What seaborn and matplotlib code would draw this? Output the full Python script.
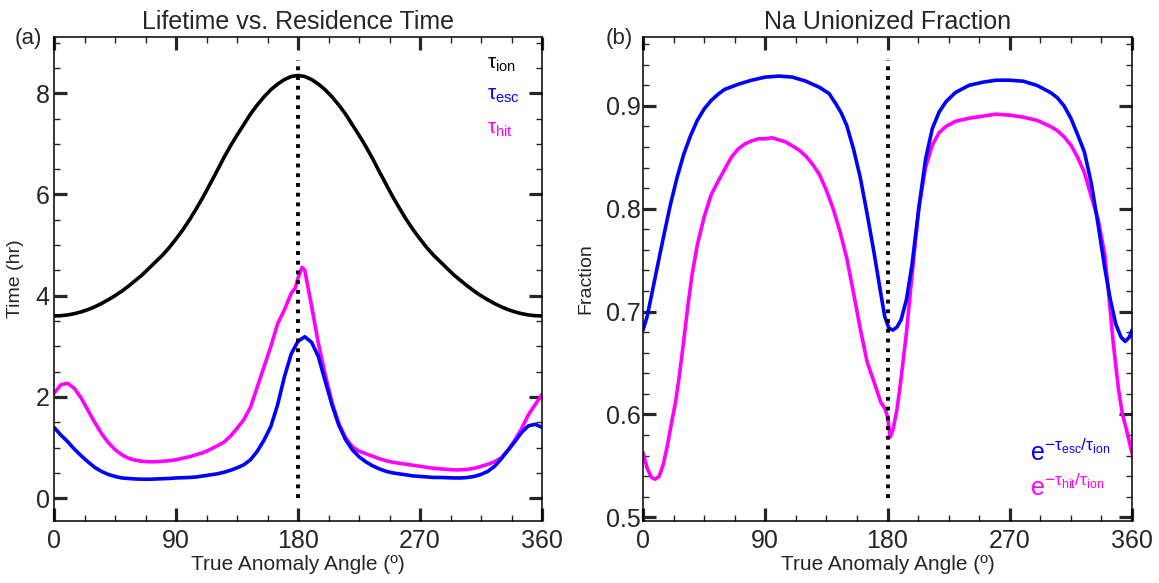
import numpy as np
import pandas as pd
import matplotlib
matplotlib.use("Agg")
import matplotlib.pyplot as plt
import seaborn as sns
from matplotlib.ticker import MultipleLocator, FormatStrFormatter

# ---- data ----
# (a) lifetime vs residence time (hr)
ion_angle = list(range(0, 365, 5))
tau_ion = [3.60, 3.605, 3.62, 3.645, 3.68, 3.725, 3.78, 3.845, 3.92, 4.00, 4.09, 4.19, 4.30,
           4.41, 4.54, 4.67, 4.80, 4.95, 5.12, 5.30, 5.50, 5.72, 5.95, 6.20, 6.45, 6.71, 6.95,
           7.17, 7.38, 7.59, 7.77, 7.93, 8.07, 8.18, 8.27, 8.33, 8.35,
           8.33, 8.27, 8.18, 8.07, 7.93, 7.77, 7.59, 7.38, 7.17, 6.95, 6.71, 6.45, 6.20, 5.95,
           5.72, 5.50, 5.30, 5.12, 4.95, 4.80, 4.67, 4.54, 4.41, 4.30, 4.19, 4.09, 4.00, 3.92,
           3.845, 3.78, 3.725, 3.68, 3.645, 3.62, 3.605, 3.60]

esc_angle = [0, 5, 10, 15, 20, 25, 30, 35, 40, 45, 50, 55, 60, 65, 70, 75, 80, 85, 90, 95, 100,
             105, 110, 115, 120, 125, 130, 135, 140, 145, 150, 155, 160, 165, 170, 175, 180, 185,
             190, 195, 200, 205, 210, 215, 220, 225, 230, 235, 240, 245, 250, 255, 260, 265, 270,
             275, 280, 285, 290, 295, 300, 305, 310, 315, 320, 325, 330, 335, 340, 345, 350, 355, 360]
tau_esc = [1.40, 1.25, 1.12, 0.97, 0.84, 0.72, 0.61, 0.53, 0.47, 0.43, 0.40, 0.39, 0.38, 0.375,
           0.375, 0.38, 0.385, 0.39, 0.40, 0.405, 0.41, 0.42, 0.44, 0.46, 0.48, 0.51, 0.55, 0.60,
           0.66, 0.76, 0.93, 1.15, 1.42, 1.85, 2.40, 2.85, 3.10, 3.19, 3.08, 2.80, 2.32, 1.85,
           1.45, 1.16, 0.96, 0.82, 0.72, 0.64, 0.58, 0.53, 0.50, 0.48, 0.46, 0.44, 0.43, 0.42,
           0.41, 0.41, 0.405, 0.40, 0.40, 0.41, 0.43, 0.47, 0.53, 0.63, 0.78, 0.95, 1.12, 1.30,
           1.43, 1.46, 1.40]

hit_angle = [0, 5, 10, 15, 20, 25, 30, 35, 40, 45, 50, 55, 60, 65, 70, 75, 80, 85, 90, 95, 100,
             105, 110, 115, 120, 125, 130, 135, 140, 145, 150, 155, 160, 165, 170, 175, 178, 180,
             183, 185, 190, 195, 200, 205, 210, 215, 220, 225, 230, 235, 240, 245, 250, 255, 260,
             265, 270, 275, 280, 285, 290, 295, 300, 305, 310, 315, 320, 325, 330, 335, 340, 345,
             350, 355, 360]
tau_hit = [2.07, 2.24, 2.27, 2.17, 1.98, 1.74, 1.50, 1.28, 1.10, 0.96, 0.86, 0.79, 0.75, 0.73,
           0.72, 0.72, 0.73, 0.74, 0.76, 0.79, 0.82, 0.86, 0.90, 0.96, 1.03, 1.10, 1.22, 1.38,
           1.55, 1.80, 2.20, 2.60, 3.00, 3.45, 3.72, 4.05, 4.15, 4.35, 4.56, 4.50, 3.80, 3.06,
           2.45, 1.90, 1.48, 1.20, 1.02, 0.93, 0.88, 0.83, 0.78, 0.74, 0.71, 0.69, 0.67, 0.65,
           0.63, 0.61, 0.59, 0.58, 0.57, 0.56, 0.56, 0.57, 0.59, 0.63, 0.67, 0.72, 0.80, 0.95,
           1.15, 1.38, 1.65, 1.85, 2.05]

# (b) unionized fraction
fesc_angle = [0, 3, 6, 10, 15, 20, 25, 30, 35, 40, 45, 50, 55, 60, 70, 80, 90, 100, 110, 120,
              130, 137, 142, 146, 150, 155, 160, 165, 170, 175, 178, 181, 184, 187, 190, 194,
              198, 203, 208, 213, 218, 223, 230, 240, 250, 260, 270, 280, 290, 300, 305, 310,
              315, 320, 325, 330, 335, 340, 344, 348, 352, 355, 358, 360]
frac_esc = [0.682, 0.695, 0.714, 0.740, 0.772, 0.803, 0.830, 0.853, 0.871, 0.886, 0.897, 0.905,
            0.911, 0.916, 0.921, 0.925, 0.928, 0.929, 0.928, 0.924, 0.918, 0.912, 0.902, 0.893,
            0.881, 0.858, 0.830, 0.795, 0.758, 0.718, 0.695, 0.684, 0.682, 0.685, 0.692, 0.712,
            0.745, 0.800, 0.848, 0.878, 0.894, 0.904, 0.913, 0.920, 0.923, 0.925, 0.925, 0.924,
            0.920, 0.913, 0.908, 0.900, 0.888, 0.872, 0.855, 0.825, 0.785, 0.742, 0.712, 0.688,
            0.675, 0.671, 0.675, 0.682]

fhit_angle = [0, 3, 6, 9, 12, 15, 18, 21, 24, 27, 30, 33, 36, 40, 45, 50, 55, 60, 65, 70, 75,
              80, 85, 90, 95, 100, 105, 110, 115, 120, 125, 130, 135, 140, 145, 150, 155, 160,
              165, 170, 175, 178, 180, 182, 184, 187, 190, 194, 198, 203, 208, 213, 218, 223,
              230, 240, 250, 260, 270, 280, 290, 300, 305, 310, 315, 320, 325, 330, 335, 340,
              343, 346, 350, 353, 356, 360]
frac_hit = [0.563, 0.548, 0.539, 0.537, 0.540, 0.552, 0.570, 0.592, 0.612, 0.640, 0.672, 0.705,
            0.735, 0.765, 0.792, 0.813, 0.826, 0.838, 0.850, 0.858, 0.863, 0.866, 0.868, 0.868,
            0.869, 0.867, 0.865, 0.861, 0.857, 0.851, 0.843, 0.833, 0.818, 0.800, 0.778, 0.752,
            0.718, 0.683, 0.651, 0.632, 0.612, 0.606, 0.598, 0.578, 0.585, 0.605, 0.635, 0.680,
            0.735, 0.800, 0.840, 0.862, 0.874, 0.880, 0.885, 0.888, 0.890, 0.892, 0.891, 0.889,
            0.886, 0.880, 0.876, 0.870, 0.862, 0.850, 0.835, 0.812, 0.790, 0.755, 0.715, 0.672,
            0.625, 0.600, 0.585, 0.562]

# ---- style ----
sns.set_style("ticks")
plt.rcParams["font.family"] = ["Liberation Sans", "DejaVu Sans"]
plt.rcParams["mathtext.fontset"] = "custom"
plt.rcParams["mathtext.rm"] = "Liberation Sans"
plt.rcParams["mathtext.it"] = "Liberation Sans"
plt.rcParams["axes.linewidth"] = 1.1

BLUE = "#0000ff"
MAGENTA = "#ff00ff"
LW = 2.6

fig = plt.figure(figsize=(11.59, 5.83), dpi=100)
ax1 = fig.add_axes([54 / 1159, 62 / 583, 488 / 1159, 484 / 583])
ax2 = fig.add_axes([643 / 1159, 62 / 583, 489 / 1159, 484 / 583])


def style_axis(ax):
    ax.set_xlim(0, 360)
    ax.xaxis.set_major_locator(MultipleLocator(90))
    ax.xaxis.set_minor_locator(MultipleLocator(22.5))
    ax.tick_params(which="both", direction="in", top=True, right=True)
    ax.tick_params(which="major", length=9.5, width=2.3, labelsize=18)
    ax.tick_params(which="minor", length=4.5, width=1.0)
    ax.tick_params(axis="x", which="major", pad=6)
    ax.tick_params(axis="y", which="major", pad=3)
    for s in ax.spines.values():
        s.set_color("black")
    ax.set_xlabel("True Anomaly Angle (º)", fontsize=15)
    ax.xaxis.set_label_coords(0.5, -0.07)
    ax.axvline(180, ymin=0.047, ymax=0.952, color="black", lw=2.8,
               linestyle=(0, (1.0, 1.5)))


# panel (a)
df_ion = pd.DataFrame({"angle": ion_angle, "tau": tau_ion})
df_esc = pd.DataFrame({"angle": esc_angle, "tau": tau_esc})
df_hit = pd.DataFrame({"angle": hit_angle, "tau": tau_hit})
sns.lineplot(data=df_ion, x="angle", y="tau", ax=ax1, color="black", lw=LW)
sns.lineplot(data=df_hit, x="angle", y="tau", ax=ax1, color=MAGENTA, lw=LW)
sns.lineplot(data=df_esc, x="angle", y="tau", ax=ax1, color=BLUE, lw=LW)
style_axis(ax1)
ax1.set_ylim(-0.45, 9.11)
ax1.yaxis.set_major_locator(MultipleLocator(2))
ax1.yaxis.set_minor_locator(MultipleLocator(0.5))
ax1.set_ylabel("Time (hr)", fontsize=14)
ax1.yaxis.set_label_coords(-0.062, 0.5)
ax1.set_title("Lifetime vs. Residence Time", fontsize=18, pad=6)
ax1.text(-0.08, 0.985, "(a)", transform=ax1.transAxes, fontsize=16, ha="left", va="baseline")
ax1.text(0.887, 0.935, r"τ$_{\mathrm{ion}}$", transform=ax1.transAxes, fontsize=15,
         color="black", va="baseline")
ax1.text(0.887, 0.870, r"τ$_{\mathrm{esc}}$", transform=ax1.transAxes, fontsize=15,
         color=BLUE, va="baseline")
ax1.text(0.887, 0.801, r"τ$_{\mathrm{hit}}$", transform=ax1.transAxes, fontsize=15,
         color=MAGENTA, va="baseline")

# panel (b)
df_fesc = pd.DataFrame({"angle": fesc_angle, "frac": frac_esc})
df_fhit = pd.DataFrame({"angle": fhit_angle, "frac": frac_hit})
sns.lineplot(data=df_fhit, x="angle", y="frac", ax=ax2, color=MAGENTA, lw=LW)
sns.lineplot(data=df_fesc, x="angle", y="frac", ax=ax2, color=BLUE, lw=LW)
style_axis(ax2)
ax2.set_ylim(0.4964, 0.967)
ax2.yaxis.set_major_locator(MultipleLocator(0.1))
ax2.yaxis.set_minor_locator(MultipleLocator(0.02))
ax2.yaxis.set_major_formatter(FormatStrFormatter("%.1f"))
ax2.tick_params(axis="y", which="major", pad=1.5)
ax2.set_ylabel("Fraction", fontsize=14)
ax2.yaxis.set_label_coords(-0.100, 0.5)
ax2.set_title("Na Unionized Fraction", fontsize=18, pad=6)
ax2.text(-0.076, 0.985, "(b)", transform=ax2.transAxes, fontsize=16, ha="left", va="baseline")
ax2.text(0.791, 0.123, r"e$^{-\tau_{\mathrm{esc}}/\tau_{\mathrm{ion}}}$",
         transform=ax2.transAxes, fontsize=18, color=BLUE, va="baseline")
ax2.text(0.791, 0.052, r"e$^{-\tau_{\mathrm{hit}}/\tau_{\mathrm{ion}}}$",
         transform=ax2.transAxes, fontsize=18, color=MAGENTA, va="baseline")

fig.savefig("out.png", dpi=100)
